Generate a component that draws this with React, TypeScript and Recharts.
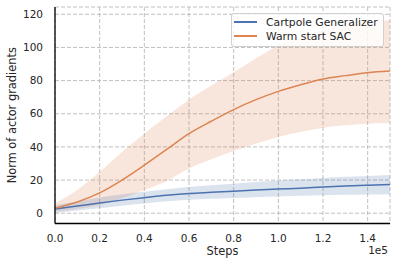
import React from "react";
import {
  ComposedChart,
  Area,
  Line,
  XAxis,
  YAxis,
  CartesianGrid,
  Label,
} from "recharts";

const steps = [0, 10000, 20000, 30000, 40000, 50000, 60000, 70000, 80000, 90000, 100000, 110000, 120000, 130000, 140000, 150000];

const sacMean = [3, 6.8, 12.3, 20, 29, 38.5, 48, 55.5, 62.5, 68.5, 73.5, 77.5, 81, 83, 84.8, 85.8];
const sacHigh = [6, 14, 25, 37, 48, 58.5, 68.5, 77, 85, 93.5, 101, 106.5, 110.5, 113, 115, 116.5];
const sacLow = [1, 2.5, 5, 9, 14, 19.5, 27, 32.5, 37.5, 42, 46, 49, 51.5, 53, 54, 54.5];

const genMean = [2.5, 4.3, 6.2, 7.9, 9.4, 10.8, 11.9, 12.6, 13.3, 14, 14.6, 15.1, 15.8, 16.4, 16.9, 17.3];
const genHigh = [4.8, 7, 9.5, 11.5, 13, 14.5, 15.8, 16.8, 17.8, 18.8, 19.8, 20.5, 21.3, 22, 22.5, 23];
const genLow = [0.2, 1.7, 3, 4.5, 5.8, 7.2, 8.1, 8.7, 9.2, 9.7, 10.1, 10.5, 10.8, 11.1, 11.3, 11.5];

const xTicks = [0, 20000, 40000, 60000, 80000, 100000, 120000, 140000];
const yTicks = [0, 20, 40, 60, 80, 100, 120];

const BLUE = "#4c72b0";
const ORANGE = "#dd8452";
const TEXT = "#262626";
const FONT = "DejaVu Sans, sans-serif";

const data = steps.map((s, i) => ({
  step: s,
  sac: sacMean[i],
  sacBand: [sacLow[i], sacHigh[i]],
  gen: genMean[i],
  genBand: [genLow[i], genHigh[i]],
}));

const tickStyle = { fill: TEXT, fontSize: 10.5, fontFamily: FONT };

export default function App() {
  return (
    <div style={{ position: "absolute", left: 0, top: 0, width: 396, height: 268, background: "#fff" }}>
      <ComposedChart
        width={396}
        height={268}
        data={data}
        margin={{ top: 7, right: 6, bottom: 0, left: 0 }}
      >
        <CartesianGrid stroke="#b0b0b0" strokeDasharray="4 2" strokeWidth={0.8} />
        <XAxis
          dataKey="step"
          type="number"
          domain={[0, 150000]}
          ticks={xTicks}
          tickFormatter={(v: number) => (v / 1e5).toFixed(1)}
          tick={tickStyle}
          tickLine={false}
          tickSize={6}
          tickMargin={5}
          axisLine={{ stroke: "#000", strokeWidth: 1.3 }}
          height={44.5}
        >
          <Label
            content={(props: any) => {
              const vb = props.viewBox;
              return (
                <g fontFamily={FONT} fill={TEXT}>
                  <text x={vb.x + vb.width / 2} y={vb.y + 31.5} textAnchor="middle" fontSize={11.4} fill={TEXT}>
                    Steps
                  </text>
                  <text x={vb.x + vb.width - 2} y={vb.y + 30.5} textAnchor="end" fontSize={10.5} fill={TEXT}>
                    1e5
                  </text>
                </g>
              );
            }}
          />
        </XAxis>
        <XAxis
          xAxisId="top"
          orientation="top"
          dataKey="step"
          type="number"
          domain={[0, 150000]}
          height={0}
          tick={false}
          tickLine={false}
          axisLine={{ stroke: "#000", strokeWidth: 1.3 }}
        />
        <YAxis
          type="number"
          domain={[-6.2, 124.4]}
          ticks={yTicks}
          tick={tickStyle}
          tickLine={false}
          tickSize={6}
          tickMargin={6}
          width={55}
          allowDataOverflow
          axisLine={{ stroke: "#000", strokeWidth: 1.3 }}
        >
          <Label
            content={(props: any) => {
              const vb = props.viewBox;
              const cx = 16;
              const cy = vb.y + vb.height / 2;
              return (
                <text
                  x={cx}
                  y={cy}
                  transform={`rotate(-90, ${cx}, ${cy})`}
                  textAnchor="middle"
                  fontSize={11.4}
                  fontFamily={FONT}
                  fill={TEXT}
                >
                  Norm of actor gradients
                </text>
              );
            }}
          />
        </YAxis>
        <YAxis
          yAxisId="right"
          orientation="right"
          type="number"
          domain={[-6.2, 124.4]}
          width={0}
          tick={false}
          tickLine={false}
          axisLine={{ stroke: "#000", strokeWidth: 1.3 }}
        />
        <Area
          dataKey="sacBand"
          type="monotone"
          stroke="none"
          fill={ORANGE}
          fillOpacity={0.2}
          isAnimationActive={false}
        />
        <Area
          dataKey="genBand"
          type="monotone"
          stroke="none"
          fill={BLUE}
          fillOpacity={0.2}
          isAnimationActive={false}
        />
        <Line dataKey="gen" type="monotone" stroke={BLUE} strokeWidth={1.5} dot={false} isAnimationActive={false} />
        <Line dataKey="sac" type="monotone" stroke={ORANGE} strokeWidth={1.5} dot={false} isAnimationActive={false} />
      </ComposedChart>
      <div
        style={{
          position: "absolute",
          left: 231,
          top: 13,
          width: 153,
          height: 34,
          boxSizing: "border-box",
          background: "rgba(255,255,255,0.8)",
          border: "1px solid #d0d0d0",
          borderRadius: 3,
          fontFamily: FONT,
          fontSize: 10.8,
          color: TEXT,
        }}
      >
        {[
          { name: "Cartpole Generalizer", color: BLUE },
          { name: "Warm start SAC", color: ORANGE },
        ].map((item, i) => (
          <div
            key={item.name}
            style={{ position: "absolute", left: 0, top: 1 + i * 14, height: 14, display: "flex", alignItems: "center", whiteSpace: "nowrap" }}
          >
            <span style={{ display: "inline-block", marginLeft: 2, width: 23, height: 1.5, background: item.color }} />
            <span style={{ marginLeft: 9 }}>{item.name}</span>
          </div>
        ))}
      </div>
    </div>
  );
}
